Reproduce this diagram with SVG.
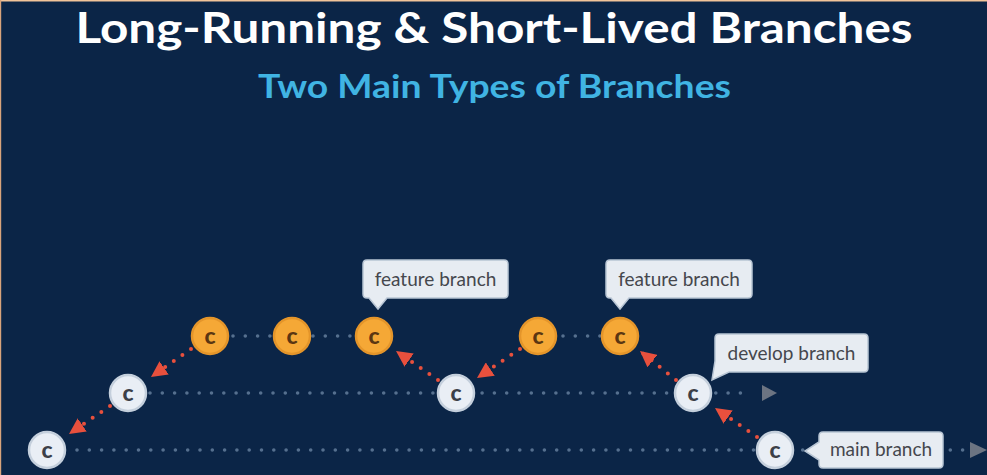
<svg xmlns="http://www.w3.org/2000/svg" width="987" height="475" viewBox="0 0 987 475">
  <style>
    .title { font-family: Lato, "Open Sans", "Liberation Sans", sans-serif; font-weight: 700; text-anchor: middle; }
    .track { stroke: #56708f; stroke-width: 3.6; stroke-linecap: round; stroke-dasharray: 0 12.3; fill: none; }
    .merge { stroke: #e8503d; stroke-width: 4; stroke-linecap: round; stroke-dasharray: 0 10.5; fill: none; marker-end: url(#redHead); }
    .commit-w circle { fill: #e9eef5; stroke: #c4cfdc; stroke-width: 2.5; }
    .commit-o circle { fill: #f5a836; stroke: #e4952a; stroke-width: 2.5; }
    .commit-w text, .commit-o text { font-family: Lato, "Liberation Sans", sans-serif; font-weight: 900; font-size: 23px; text-anchor: middle; }
    .commit-w text { fill: #3c3f48; }
    .commit-o text { fill: #5a3612; }
    .callout path { fill: #e7ecf2; stroke: #b8c5d4; stroke-width: 1.5; }
    .callout text { font-family: Lato, "Open Sans", "Liberation Sans", sans-serif; font-size: 19px; fill: #45474d; text-anchor: middle; }
  </style>
  <defs>
    <marker id="redHead" viewBox="0 0 16 16" refX="16" refY="8" markerWidth="16" markerHeight="16" markerUnits="userSpaceOnUse" orient="auto">
      <path d="M0,0 L16,8 L0,16 Z" fill="#e8503d"/>
    </marker>
  </defs>

  <!-- backdrop with thin warm edge on top and left -->
  <rect x="0" y="0" width="987" height="475" fill="#0b2547"/>
  <rect x="0" y="0" width="987" height="1.5" fill="#f2c49a"/>
  <rect x="0" y="0" width="1.2" height="475" fill="#d9a47c"/>

  <!-- headings -->
  <text class="title" x="494" y="43" font-size="42.5" fill="#ffffff" textLength="837" lengthAdjust="spacingAndGlyphs">Long-Running &amp; Short-Lived Branches</text>
  <text class="title" x="494.5" y="98" font-size="32" fill="#40b4e3" textLength="473" lengthAdjust="spacingAndGlyphs">Two Main Types of Branches</text>

  <!-- connectors: branch tracks and merge arrows -->
  <g id="connectors">
    <line class="track" x1="77" y1="450" x2="964" y2="450"/>
    <polygon points="970,442 987,450 970,458" fill="#6c7482"/>
    <line class="track" x1="150" y1="393" x2="752" y2="393"/>
    <polygon points="762,385 777,393 762,401" fill="#6c7482"/>
    <line class="track" x1="233" y1="336" x2="270" y2="336"/>
    <line class="track" x1="313" y1="336" x2="355" y2="336"/>
    <line class="track" x1="563" y1="336" x2="600" y2="336"/>

    <line class="merge" x1="191" y1="349" x2="151" y2="377"/>
    <line class="merge" x1="110" y1="406" x2="69" y2="434"/>
    <line class="merge" x1="438" y1="380" x2="396" y2="351"/>
    <line class="merge" x1="520" y1="349" x2="477" y2="378"/>
    <line class="merge" x1="676" y1="380" x2="640" y2="351"/>
    <line class="merge" x1="757" y1="437" x2="715" y2="408"/>
  </g>

  <!-- commits on main -->
  <g id="main-c1" class="commit-w"><circle cx="47" cy="450" r="18"/><text x="47" y="457.5">c</text></g>
  <g id="main-c2" class="commit-w"><circle cx="775" cy="450" r="18"/><text x="775" y="457.5">c</text></g>

  <!-- commits on develop -->
  <g id="dev-c1" class="commit-w"><circle cx="128" cy="393" r="18"/><text x="128" y="400.5">c</text></g>
  <g id="dev-c2" class="commit-w"><circle cx="456" cy="393" r="18"/><text x="456" y="400.5">c</text></g>
  <g id="dev-c3" class="commit-w"><circle cx="693" cy="393" r="18"/><text x="693" y="400.5">c</text></g>

  <!-- commits on feature branches -->
  <g id="feat1-c1" class="commit-o"><circle cx="210" cy="336" r="18"/><text x="210" y="343.5">c</text></g>
  <g id="feat1-c2" class="commit-o"><circle cx="292" cy="336" r="18"/><text x="292" y="343.5">c</text></g>
  <g id="feat1-c3" class="commit-o"><circle cx="374" cy="336" r="18"/><text x="374" y="343.5">c</text></g>
  <g id="feat2-c1" class="commit-o"><circle cx="538" cy="336" r="18"/><text x="538" y="343.5">c</text></g>
  <g id="feat2-c2" class="commit-o"><circle cx="620" cy="336" r="18"/><text x="620" y="343.5">c</text></g>

  <!-- callout labels -->
  <g id="label-feature-1" class="callout">
    <path d="M367,260 H504 Q508,260 508,264 V294 Q508,298 504,298 H387 L378,309 L369,298 H367 Q363,298 363,294 V264 Q363,260 367,260 Z"/>
    <text x="435.5" y="286">feature branch</text>
  </g>
  <g id="label-feature-2" class="callout">
    <path d="M610,260 H748 Q752,260 752,264 V294 Q752,298 748,298 H629 L620,309 L611,298 H610 Q606,298 606,294 V264 Q606,260 610,260 Z"/>
    <text x="679" y="286">feature branch</text>
  </g>
  <g id="label-develop" class="callout">
    <path d="M719,334 H864 Q868,334 868,338 V368 Q868,372 864,372 H729 L712,380 L715,361 V338 Q715,334 719,334 Z"/>
    <text x="791.5" y="360">develop branch</text>
  </g>
  <g id="label-main" class="callout">
    <path d="M823,432 H939 Q943,432 943,436 V464 Q943,468 939,468 H823 Q819,468 819,464 V460 L805,451 L819,442 V436 Q819,432 823,432 Z"/>
    <text x="881" y="456">main branch</text>
  </g>
</svg>
